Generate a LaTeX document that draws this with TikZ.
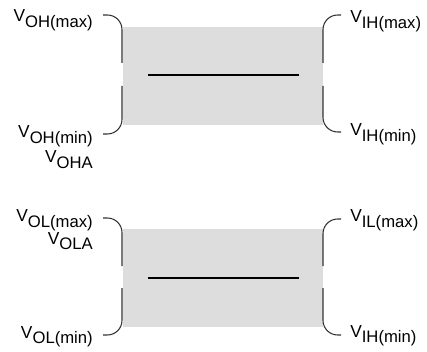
\documentclass[tikz,border=0pt]{standalone}
\usepackage{fontspec}
\setmainfont{Liberation Sans}
\usepackage{xcolor}
\usepackage{tikz}
\usetikzlibrary{positioning}

\definecolor{bandgray}{HTML}{DDDDDD}
\definecolor{bracegray}{HTML}{333333}

% subscripted voltage name
\newcommand{\volt}[1]{V\raisebox{-4pt}{\fontsize{12.5}{15}\selectfont #1}}

\begin{document}
\begin{tikzpicture}[
    x=0.75pt, y=-0.75pt,
    every node/.style={font=\fontsize{13}{15}\selectfont, inner sep=0pt},
    band/.style={fill=bandgray, draw=none, minimum width=150pt, minimum height=73.5pt},
    brk/.style={draw=bracegray, line width=0.8pt, rounded corners=11pt},
    mid/.style={line width=2pt, black},
    lbl/.style={anchor=base east},
    rlbl/.style={anchor=base west}
]
\useasboundingbox (0,0) rectangle (427,352);

% High level band
\node[band] (hiband) at (223,76) {};
\draw[mid] (148,75) -- (299,75);

% Low level band
\node[band] (loband) at (223,277.5) {};
\draw[mid] (148,278) -- (299,278);

% Left brackets (output side)
\draw[brk] (103,15) -| (122,63);
\draw[brk] (122,86) |- (103,134);
\draw[brk] (103,218) -| (122,266);
\draw[brk] (122,288) |- (103,335);

% Right brackets (input side)
\draw[brk] (341,15) -| (323,63);
\draw[brk] (323,86) |- (341,132);
\draw[brk] (341,219) -| (323,266);
\draw[brk] (323,288) |- (341,335);

% Output labels
\node[lbl] (ohmax) at (93,22) {\volt{OH(max)}};
\node[lbl] (ohmin) at (93,138) {\volt{OH(min)}};
\node[lbl] (oha) at (93,163) {\volt{OHA}};
\node[lbl] (olmax) at (93,222) {\volt{OL(max)}};
\node[lbl] (ola) at (93,244) {\volt{OLA}};
\node[lbl] (olmin) at (93,338) {\volt{OL(min)}};

% Input labels
\node[rlbl] (ihmax) at (350,23) {\volt{IH(max)}};
\node[rlbl] (ihmin) at (350,136) {\volt{IH(min)}};
\node[rlbl] (ilmax) at (350,222) {\volt{IL(max)}};
\node[rlbl] (ilmin) at (350,337) {\volt{IH(min)}};

\end{tikzpicture}
\end{document}
